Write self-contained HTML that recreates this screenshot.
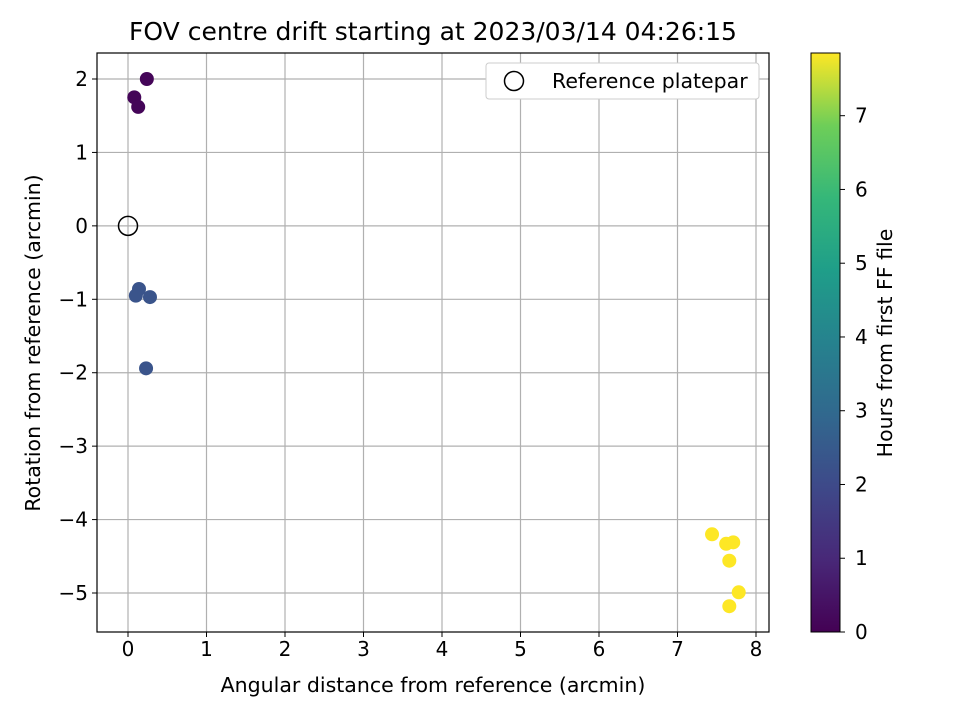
<!DOCTYPE html>
<html><head><meta charset="utf-8"><style>
body{margin:0;background:#fff;font-family:"Liberation Sans",sans-serif}
text{font-family:"DejaVu Sans","Liberation Sans",sans-serif}
</style></head><body>
<svg id="chart" width="960" height="720" xmlns="http://www.w3.org/2000/svg">
<defs><linearGradient id="vir" x1="0" y1="1" x2="0" y2="0">
<stop offset="0" stop-color="#440154"/><stop offset="0.125" stop-color="#482878"/><stop offset="0.25" stop-color="#3e4989"/><stop offset="0.375" stop-color="#31688e"/><stop offset="0.5" stop-color="#26828e"/><stop offset="0.625" stop-color="#1f9e89"/><stop offset="0.75" stop-color="#35b779"/><stop offset="0.875" stop-color="#6ece58"/><stop offset="1" stop-color="#fde725"/></linearGradient></defs>
<g id="grid"></g><g id="pts"></g><g id="axes"></g>
</svg>
<script>
const xs=[0.24,0.08,0.13,0.14,0.10,0.28,0.23,7.44,7.62,7.71,7.66,7.78,7.66];
const ys=[2.0,1.75,1.62,-0.86,-0.95,-0.97,-1.94,-4.20,-4.33,-4.31,-4.56,-4.99,-5.18];
const hours=[0.1,0.1,0.1,2.3,2.3,2.3,2.3,7.85,7.85,7.85,7.85,7.85,7.85];
const xTicks=[0,1,2,3,4,5,6,7,8];
const yTicks=[2,1,0,-1,-2,-3,-4,-5];
const cTicks=[0,1,2,3,4,5,6,7];
const hMax=7.85;
const L=97,R=769,T=53,B=632;
const X=v=>128+v*78.5, Y=v=>79+(2-v)*73.43, CY=v=>632-v*(579/hMax);
const ns="http://www.w3.org/2000/svg";
function mk(p,t,a){const e=document.createElementNS(ns,t);for(const k in a)e.setAttribute(k,a[k]);p.appendChild(e);return e;}
const svg=document.getElementById('chart'),g=document.getElementById('grid'),pg=document.getElementById('pts'),ax=document.getElementById('axes');
const stops=[[68,1,84],[72,40,120],[62,73,137],[49,104,142],[38,130,142],[31,158,137],[53,183,121],[110,206,88],[253,231,37]];
function vir(t){t=Math.max(0,Math.min(1,t))*8;const i=Math.min(7,Math.floor(t)),f=t-i,a=stops[i],b=stops[i+1];return`rgb(${a.map((c,k)=>Math.round(c+(b[k]-c)*f)).join(',')})`;}
xTicks.forEach(v=>{const l=mk(g,'line',{x1:X(v),x2:X(v),y1:T,y2:B,stroke:'#b0b0b0','stroke-width':1.2});
mk(ax,'line',{x1:X(v),x2:X(v),y1:B,y2:B+5,stroke:'#000'});const t=mk(ax,'text',{x:X(v),y:B+24,'text-anchor':'middle','font-size':20});t.textContent=v;});
yTicks.forEach(v=>{const l=mk(g,'line',{x1:L,x2:R,y1:Y(v),y2:Y(v),stroke:'#b0b0b0','stroke-width':1.2});
mk(ax,'line',{x1:L-5,x2:L,y1:Y(v),y2:Y(v),stroke:'#000'});const t=mk(ax,'text',{x:L-9,y:Y(v)+7,'text-anchor':'end','font-size':20});t.textContent=v<0?'−'+(-v):v;});
xs.forEach((x,i)=>{const c=mk(pg,'circle',{cx:X(x),cy:Y(ys[i]),r:7,fill:vir(hours[i]/hMax)});});
const ref=mk(pg,'circle',{cx:X(0),cy:Y(0),r:9.5,fill:'none',stroke:'#000','stroke-width':1.5});
const fr=mk(ax,'rect',{x:L,y:T,width:R-L,height:B-T,fill:'none',stroke:'#000','stroke-width':1.2});
function txt(s,a,name){const t=mk(ax,'text',a);t.textContent=s;return t;}
txt('FOV centre drift starting at 2023/03/14 04:26:15',{x:433,y:40,'text-anchor':'middle','font-size':25},'chart-title');
txt('Angular distance from reference (arcmin)',{x:433,y:692,'text-anchor':'middle','font-size':20.5},'x-axis-title');
txt('Rotation from reference (arcmin)',{x:0,y:0,'text-anchor':'middle','font-size':20.5,transform:'translate(40,343) rotate(-90)'},'y-axis-title');
const lg=mk(ax,'rect',{x:486,y:63,width:273,height:36,rx:3,fill:'#fff',stroke:'#ccc'});
mk(ax,'circle',{cx:514,cy:81,r:9.5,fill:'none',stroke:'#000','stroke-width':1.5});
txt('Reference platepar',{x:552,y:88,'font-size':20.5},'legend-label');
const cb=mk(ax,'rect',{x:811,y:T,width:29,height:B-T,fill:'url(#vir)',stroke:'#000','stroke-width':1});
cTicks.forEach(v=>{mk(ax,'line',{x1:840,x2:845,y1:CY(v),y2:CY(v),stroke:'#000'});txt(v,{x:855,y:CY(v)+7,'font-size':20},'colorbar-tick-label');});
txt('Hours from first FF file',{x:0,y:0,'text-anchor':'middle','font-size':20.5,transform:'translate(892,343) rotate(-90)'},'colorbar-title');
</script>
</body></html>
